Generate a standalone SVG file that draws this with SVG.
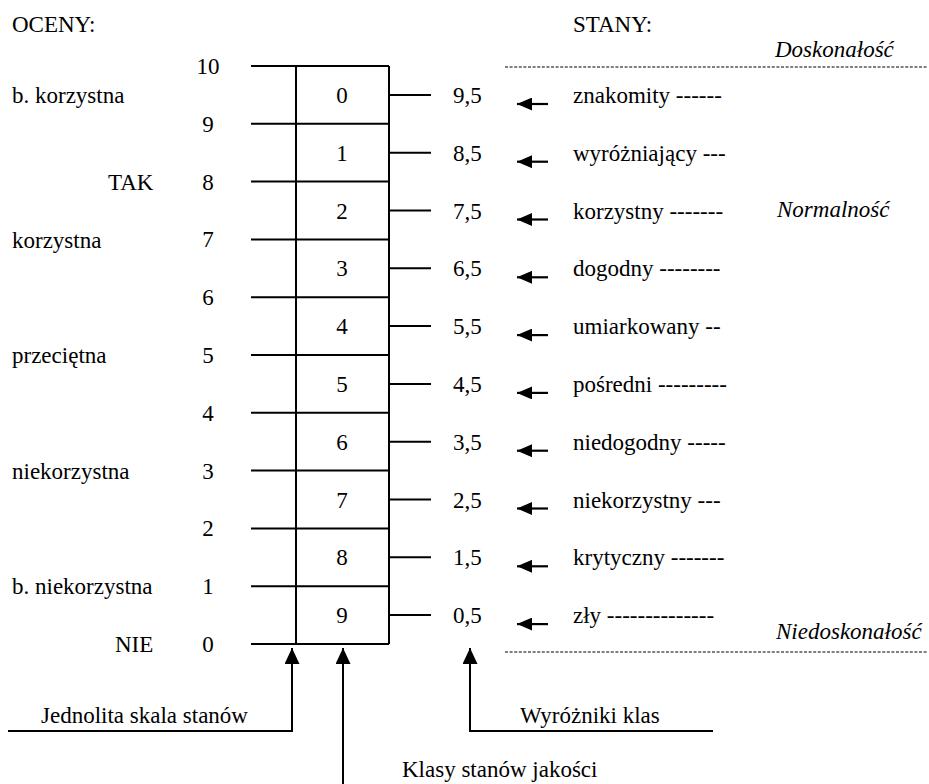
<svg xmlns="http://www.w3.org/2000/svg" width="929" height="784" viewBox="0 0 929 784" font-family="'Liberation Serif', 'Times New Roman', 'DejaVu Serif', serif">
<style>
text{font-family:'Liberation Serif','Times New Roman','DejaVu Serif',serif;font-size:23px;fill:#000}
.it{font-style:italic}
.mid{text-anchor:middle}
.ln{stroke:#000;stroke-width:2;fill:none}
.dash{stroke:#000;stroke-width:1.2;stroke-dasharray:3 1.6;fill:none}
.arr{stroke:#000;stroke-width:2.2;fill:none;marker-end:url(#ah)}
.arrb{stroke:#000;stroke-width:2;fill:none;marker-end:url(#ahb)}
</style>
<defs>
<marker id="ah" viewBox="0 0 15 13" refX="15" refY="6.5" markerWidth="15" markerHeight="13" markerUnits="userSpaceOnUse" orient="auto"><path d="M0,0 L15,6.5 L0,13 z" fill="#000"/></marker>
<marker id="ahb" viewBox="0 0 16 15" refX="16" refY="7.5" markerWidth="16" markerHeight="15" markerUnits="userSpaceOnUse" orient="auto"><path d="M0,0 L16,7.5 L0,15 z" fill="#000"/></marker>
</defs>
<rect width="929" height="784" fill="#fff"/>

<g id="headers">
<text x="12" y="32">OCENY:</text>
<text x="573" y="32">STANY:</text>
</g>

<g id="zones">
<text class="it" x="775" y="57">Doskonałość</text>
<path class="dash" d="M505,67 H928"/>
<text class="it" x="777" y="217">Normalność</text>
<text class="it" x="776" y="639">Niedoskonałość</text>
<path class="dash" d="M505,652 H928"/>
</g>

<g id="ratings">
<text x="12" y="103">b. korzystna</text>
<text x="108" y="190">TAK</text>
<text x="12" y="248">korzystna</text>
<text x="12" y="363">przeciętna</text>
<text x="12" y="479">niekorzystna</text>
<text x="12" y="594">b. niekorzystna</text>
<text x="115" y="652">NIE</text>
</g>

<g id="scale">
<text class="mid" x="208" y="74">10</text>
<text class="mid" x="208" y="132">9</text>
<text class="mid" x="208" y="190">8</text>
<text class="mid" x="208" y="247">7</text>
<text class="mid" x="208" y="305">6</text>
<text class="mid" x="208" y="363">5</text>
<text class="mid" x="208" y="421">4</text>
<text class="mid" x="208" y="479">3</text>
<text class="mid" x="208" y="536">2</text>
<text class="mid" x="208" y="594">1</text>
<text class="mid" x="208" y="652">0</text>
<path class="ln" d="M251,66 H389 M251,123.8 H389 M251,181.6 H389 M251,239.4 H389 M251,297.2 H389 M251,355 H389 M251,412.8 H389 M251,470.6 H389 M251,528.4 H389 M251,586.2 H389 M251,644 H389"/>
</g>

<g id="classes">
<path class="ln" d="M296,66 V644 M389,66 V644"/>
<text class="mid" x="342" y="103">0</text>
<text class="mid" x="342" y="161">1</text>
<text class="mid" x="342" y="218.5">2</text>
<text class="mid" x="342" y="276.3">3</text>
<text class="mid" x="342" y="334">4</text>
<text class="mid" x="342" y="392">5</text>
<text class="mid" x="342" y="450">6</text>
<text class="mid" x="342" y="507.5">7</text>
<text class="mid" x="342" y="565.3">8</text>
<text class="mid" x="342" y="623">9</text>
</g>

<g id="markers">
<text x="453" y="103">9,5</text>
<text x="453" y="161">8,5</text>
<text x="453" y="218.5">7,5</text>
<text x="453" y="276.3">6,5</text>
<text x="453" y="334">5,5</text>
<text x="453" y="392">4,5</text>
<text x="453" y="450">3,5</text>
<text x="453" y="507.5">2,5</text>
<text x="453" y="565.3">1,5</text>
<text x="453" y="623">0,5</text>
</g>

<g id="states">
<text x="573" y="103">znakomity ------</text>
<text x="573" y="161">wyróżniający ---</text>
<text x="573" y="218.5">korzystny -------</text>
<text x="573" y="276.3">dogodny --------</text>
<text x="573" y="334">umiarkowany --</text>
<text x="573" y="392">pośredni ---------</text>
<text x="573" y="450">niedogodny -----</text>
<text x="573" y="507.5">niekorzystny ---</text>
<text x="573" y="565.3">krytyczny -------</text>
<text x="573" y="623">zły --------------</text>
</g>

<g id="legend">
<text x="41" y="723">Jednolita skala stanów</text>
<text x="520" y="723">Wyróżniki klas</text>
<text x="402" y="777">Klasy stanów jakości</text>
</g>

<g id="connectors">
<path class="ln" d="M389,94.9 H431 M389,152.7 H431 M389,210.5 H431 M389,268.3 H431 M389,326.1 H431 M389,383.9 H431 M389,441.7 H431 M389,499.5 H431 M389,557.3 H431 M389,615.1 H431"/>
<path class="arr" d="M548,104 H517"/>
<path class="arr" d="M548,161.7 H517"/>
<path class="arr" d="M548,219.5 H517"/>
<path class="arr" d="M548,277.3 H517"/>
<path class="arr" d="M548,335.1 H517"/>
<path class="arr" d="M548,392.9 H517"/>
<path class="arr" d="M548,450.7 H517"/>
<path class="arr" d="M548,508.5 H517"/>
<path class="arr" d="M548,566.3 H517"/>
<path class="arr" d="M548,624.1 H517"/>
<path class="arrb" d="M8,731 H292 V648"/>
<path class="arrb" d="M343,784 V648"/>
<path class="arrb" d="M713,731 H470 V648"/>
</g>
</svg>
